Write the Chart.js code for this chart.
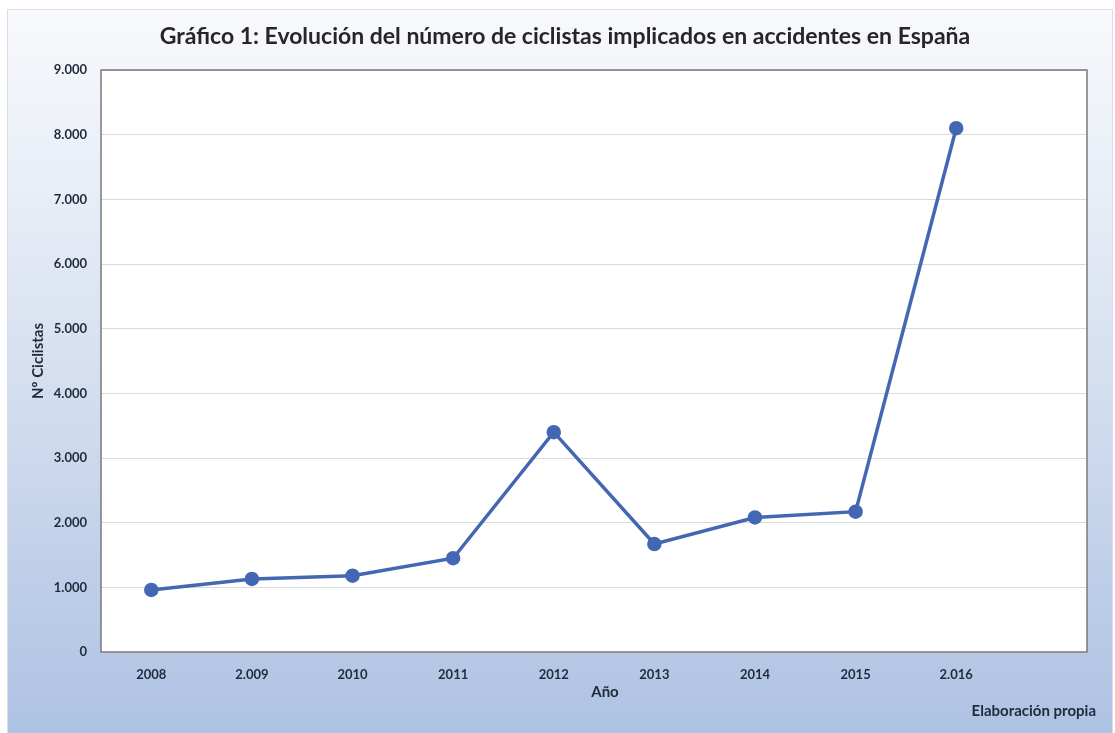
<!DOCTYPE html>
<html>
<head>
<meta charset="utf-8">
<script src="https://cdn.jsdelivr.net/npm/chart.js@4"></script>
<style>
  html, body { margin: 0; padding: 0; background: #ffffff; }
  #wrap { width: 1115px; height: 733px; position: relative; }
</style>
</head>
<body>
<div id="wrap"><canvas id="c" width="1115" height="733"></canvas></div>
<script>
const years = [2008, 2009, 2010, 2011, 2012, 2013, 2014, 2015, 2016];
const yearLabels = ['2008', '2.009', '2010', '2011', '2012', '2013', '2014', '2015', '2.016'];
const cyclists = [960, 1130, 1180, 1450, 3400, 1670, 2080, 2170, 8100];
const yTickValues = [0, 1000, 2000, 3000, 4000, 5000, 6000, 7000, 8000, 9000];
const yTickLabels = ['0', '1.000', '2.000', '3.000', '4.000', '5.000', '6.000', '7.000', '8.000', '9.000'];
const titleText = 'Gráfico 1: Evolución del número de ciclistas implicados en accidentes en España';
const yTitle = 'Nº Ciclistas';
const xTitle = 'Año';
const sourceText = 'Elaboración propia';

const FONT = 'Lato, "Open Sans", sans-serif';
const TXT = '#1f2a3a';

const bgPlugin = {
  id: 'bg',
  beforeDraw(chart) {
    const ctx = chart.ctx;
    ctx.save();
    ctx.fillStyle = '#ffffff';
    ctx.fillRect(0, 0, chart.width, chart.height);
    const g = ctx.createLinearGradient(0, 9, 0, 733);
    g.addColorStop(0, '#f8f9fc');
    g.addColorStop(0.3, '#e5ebf5');
    g.addColorStop(1, '#aec2e3');
    ctx.fillStyle = g;
    ctx.fillRect(7, 9, 1106, 724);
    ctx.strokeStyle = '#d8dde6';
    ctx.lineWidth = 1;
    ctx.strokeRect(7.5, 9.5, 1105, 724);
    const a = chart.chartArea;
    ctx.fillStyle = '#ffffff';
    ctx.fillRect(a.left, a.top, a.right - a.left, a.bottom - a.top);
    ctx.restore();
  },
  afterDatasetsDraw(chart) {
    const ctx = chart.ctx;
    const a = chart.chartArea;
    ctx.save();
    ctx.strokeStyle = '#7a7a7a';
    ctx.lineWidth = 1.5;
    ctx.strokeRect(a.left, a.top, a.right - a.left, a.bottom - a.top);
    ctx.textBaseline = 'middle';
    // chart title
    ctx.fillStyle = '#262626';
    ctx.font = 'bold 23px ' + FONT;
    ctx.textAlign = 'center';
    ctx.fillText(titleText, 565, 37);
    // x axis title
    ctx.fillStyle = TXT;
    ctx.font = 'bold 15px ' + FONT;
    ctx.fillText(xTitle, 605, 692);
    // source note
    ctx.textAlign = 'right';
    ctx.fillText(sourceText, 1096, 711);
    ctx.restore();
  }
};

new Chart(document.getElementById('c'), {
  type: 'line',
  data: {
    datasets: [{
      data: years.map((y, i) => ({ x: y, y: cyclists[i] })),
      borderColor: '#4467b3',
      backgroundColor: '#4467b3',
      borderWidth: 3.5,
      pointRadius: 5.5,
      pointHoverRadius: 5.5,
      tension: 0
    }]
  },
  options: {
    responsive: false,
    animation: false,
    layout: { padding: { left: 0, right: 28, top: 70, bottom: 0 } },
    plugins: {
      legend: { display: false },
      tooltip: { enabled: false },
      title: { display: false }
    },
    scales: {
      x: {
        type: 'linear',
        min: 2007.5,
        max: 2017.3,
        afterBuildTicks(scale) { scale.ticks = years.map(v => ({ value: v })); },
        afterFit(scale) { scale.height = 81; },
        ticks: {
          autoSkip: false,
          maxRotation: 0,
          padding: 7,
          color: TXT,
          font: { family: FONT, size: 13, weight: 'bold' },
          callback: (v, i) => yearLabels[i]
        },
        grid: { display: false },
        border: { display: false },
        title: { display: false, text: xTitle }
      },
      y: {
        min: 0,
        max: 9000,
        afterBuildTicks(scale) { scale.ticks = yTickValues.map(v => ({ value: v })); },
        afterFit(scale) { scale.width = 101; },
        ticks: {
          padding: 14,
          color: TXT,
          font: { family: FONT, size: 13, weight: 'bold' },
          callback: (v, i) => yTickLabels[i]
        },
        grid: { color: '#dadada', lineWidth: 1, drawTicks: false },
        border: { display: false },
        title: {
          display: true,
          text: yTitle,
          color: TXT,
          font: { family: FONT, size: 15, weight: 'bold' },
          padding: { top: 29, bottom: 0 }
        }
      }
    }
  },
  plugins: [bgPlugin]
});
</script>
</body>
</html>
